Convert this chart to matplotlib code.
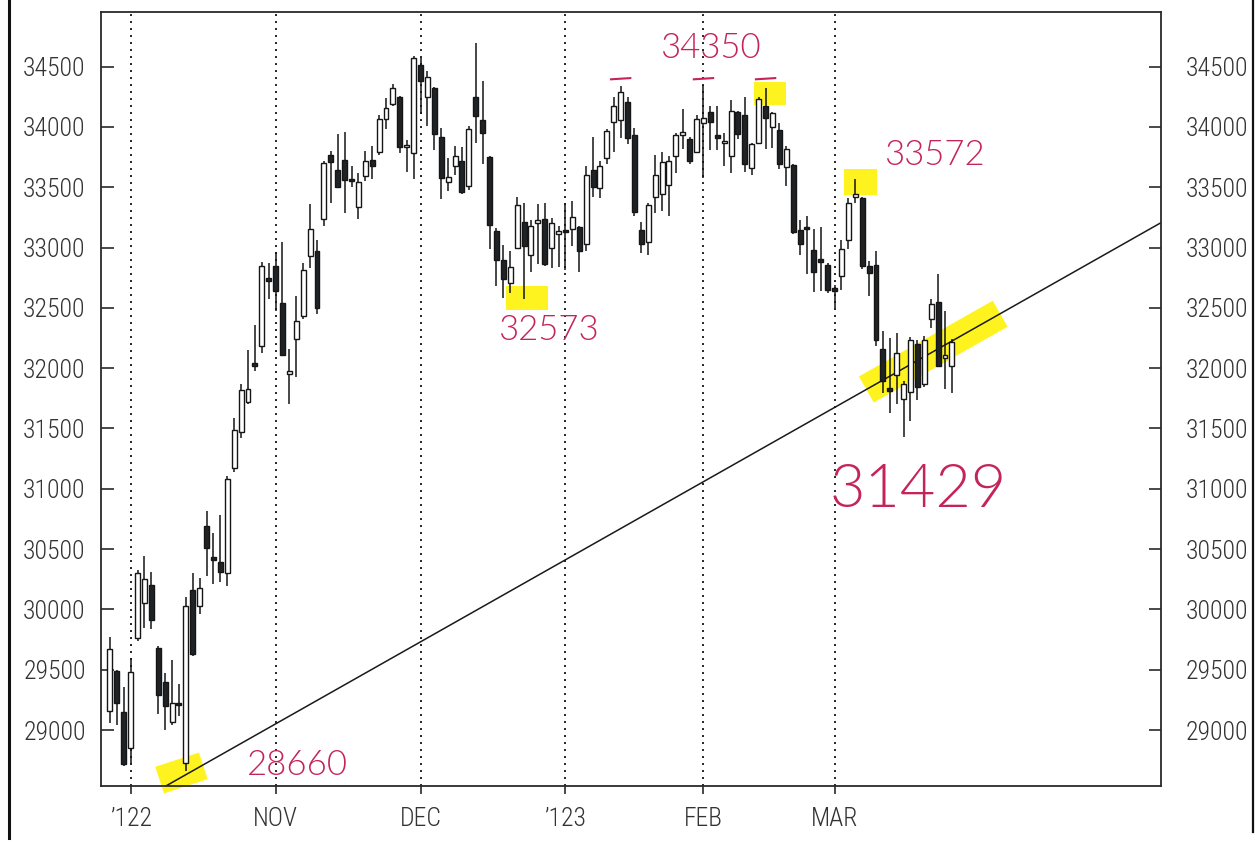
import matplotlib
matplotlib.use("Agg")
import matplotlib.pyplot as plt
import matplotlib.font_manager as fm
from matplotlib.patches import Polygon
from matplotlib.lines import Line2D
from matplotlib.transforms import IdentityTransform
import numpy as np

# ---------------- data (DJIA daily, Sep 28 2022 - Mar 24 2023) ----------------
opens = [29160, 29490, 29150, 28850, 29760, 30050, 30200, 29680, 29400, 29070,
         29220, 28730, 30160, 30030, 30690, 30430, 30390, 30300, 31170, 31470,
         31720, 32045, 32180, 32740, 32850, 32540, 31950, 32240, 32430, 32930,
         32970, 33240, 33770, 33640, 33730, 33560, 33340, 33590, 33730, 33790,
         34070, 34190, 34250, 33830, 33780, 34510, 34250, 34320, 33915, 33540,
         33680, 33720, 33510, 34250, 34060, 33750, 33140, 32900, 32710, 33000,
         33210, 32940, 33200, 33240, 33000, 33110, 33145, 33150, 33170, 33030,
         33640, 33495, 33745, 34040, 34060, 34210, 33935, 33145, 33050, 33420,
         33440, 33515, 33755, 33935, 33900, 33795, 34030, 34120, 33925, 33865,
         33760, 34120, 34095, 33660, 33870, 34175, 34000, 33975, 33665, 33685,
         33145, 33160, 32980, 32890, 32855, 32650, 32765, 33060, 33420, 33410,
         32850, 32855, 32160, 31830, 31940, 31745, 31805, 32200, 31865, 32405,
         32550, 32085, 32020]
highs = [29770, 29500, 29360, 29600, 30330, 30440, 30310, 29700, 29470, 29580,
         29380, 30100, 30300, 30260, 30815, 30630, 30780, 31110, 31590, 31870,
         32150, 32360, 32880, 32870, 32960, 33050, 32160, 32600, 32870, 33360,
         33060, 33720, 33800, 33940, 33960, 33680, 33620, 33800, 33840, 34100,
         34240, 34360, 34260, 33890, 34590, 34570, 34460, 34330, 33990, 33740,
         33840, 33830, 34010, 34700, 34380, 33760, 33160, 33020, 32975, 33420,
         33370, 33230, 33360, 33370, 33245, 33175, 33370, 33385, 33175, 33680,
         33920, 33720, 33985, 34250, 34340, 34250, 33995, 33215, 33370, 33765,
         33790, 33760, 33950, 34150, 33920, 34095, 34345, 34170, 34170, 33950,
         34225, 34135, 34245, 33870, 34250, 34320, 34125, 34030, 33845, 33690,
         33230, 33265, 33150, 33170, 32870, 32690, 33060, 33410, 33572, 33420,
         32890, 32975, 32310, 32250, 32290, 31895, 32260, 32230, 32270, 32575,
         32780, 32470, 32240]
lows = [29060, 29040, 28700, 28720, 29740, 29850, 29840, 29130, 29000, 29040,
        29120, 28660, 29610, 29960, 30280, 30210, 30230, 30190, 31140, 31420,
        31700, 31980, 32130, 32570, 32470, 32100, 31700, 31930, 32410, 32830,
        32450, 33180, 33370, 33490, 33290, 33500, 33240, 33550, 33570, 33770,
        33980, 34170, 33780, 33630, 33570, 34110, 34010, 33810, 33400, 33470,
        33600, 33440, 33480, 33870, 33690, 32990, 32680, 32580, 32625, 32990,
        32573, 32800, 32860, 32850, 32830, 32840, 32810, 33010, 32800, 32970,
        33420, 33410, 33695, 33790, 33910, 33860, 33265, 32955, 32940, 33290,
        33300, 33260, 33615, 33820, 33690, 33780, 33575, 33810, 33810, 33675,
        33615, 33900, 33625, 33600, 33860, 33815, 33825, 33650, 33510, 33110,
        32935, 32780, 32630, 32640, 32620, 32500, 32650, 32985, 33370, 32820,
        32600, 32180, 31795, 31630, 31700, 31429, 31560, 31740, 31840, 32330,
        32010, 31825, 31795]
closes = [29670, 29220, 28720, 29480, 30300, 30250, 29910, 29290, 29200, 29220,
          29205, 30030, 29630, 30180, 30510, 30410, 30310, 31080, 31490, 31820,
          31830, 32020, 32850, 32725, 32640, 32110, 31980, 32390, 32810, 33150,
          32500, 33700, 33710, 33500, 33560, 33550, 33545, 33720, 33680, 34070,
          34160, 34320, 33830, 33845, 34570, 34380, 34410, 33940, 33580, 33585,
          33755, 33460, 33980, 34090, 33950, 33190, 32900, 32740, 32840, 33350,
          33010, 33180, 33225, 32860, 33200, 33135, 33125, 33250, 32975, 33600,
          33500, 33680, 33965, 34170, 34290, 33905, 33295, 33030, 33350, 33600,
          33710, 33720, 33935, 33960, 33715, 34070, 34075, 34045, 33910, 33885,
          34130, 33945, 33690, 33855, 34230, 34075, 34115, 33690, 33815, 33125,
          33030, 33150, 32800, 32880, 32645, 32640, 32990, 33370, 33430, 32845,
          32790, 32235, 31890, 31810, 32130, 31865, 32230, 31845, 32230, 32530,
          32020, 32105, 32215]

month_pos = [3, 24, 45, 66, 86, 105]
month_labels = ["\u2019122", "NOV", "DEC", "\u2019123", "FEB", "MAR"]
ytick_vals = list(range(29000, 35000, 500))

# trend line anchors (index, value)
trend_pts = [(11, 28630), (122, 32225)]

# handwritten notes: (text, index, value, size)
notes = [("34350", 86.96, 34654, 25), ("32573", 63.5, 32316, 25),
         ("33572", 119.4, 33767, 25), ("31429", 117.1, 30990, 44),
         ("28660", 27.2, 28710, 25)]
# highlights: (index, value, width px, height px, angle deg)
marks = [(10.36, 28644, 46, 28, 18), (60.43, 32586, 42, 24, 0),
         (95.7, 34281, 32, 23, 0), (108.8, 33543, 33, 26, 0)]
red_ticks = [(74, 34395), (86, 34395), (95, 34395)]

# ---------------- label font: prefer a narrow face ----------------
prefs = ["LiberationSansNarrow-Regular", "RobotoCondensed-Light",
         "RobotoCondensed-Regular", "NotoSans-CondensedLight",
         "NotoSans-Condensed.", "NotoSans-CondensedRegular",
         "DejaVuSansCondensed.", "OpenSans_Condensed-Light",
         "OpenSansCondensed-Light", "OpenSans-CondensedLight",
         "OpenSans-CondensedRegular", "Roboto_Condensed-Light"]
files = [f.fname for f in fm.fontManager.ttflist]
narrow = None
for p in prefs:
    hits = [f for f in files if p.lower() in f.lower()]
    if hits:
        narrow = hits[0]
        break
if narrow is None:
    cands = [f.fname for f in fm.fontManager.ttflist
             if f.stretch in ("condensed", "semi-condensed", "extra-condensed")
             and f.weight in (300, 400, "normal", "light", "regular")]
    if cands:
        narrow = cands[0]

if narrow is not None:
    lab_prop = fm.FontProperties(fname=narrow, size=18.5)
else:
    lab_prop = fm.FontProperties(family=["Liberation Sans", "DejaVu Sans"], size=14.5)
lab_color = "#333333"

# ---------------- figure ----------------
W, H = 1255, 843
fig = plt.figure(figsize=(W / 100, H / 100), dpi=100)
fig.patch.set_facecolor("white")
ax = fig.add_axes([101 / W, 1 - 786 / H, (1161 - 101) / W, (786 - 12) / H])
ax.set_xlim(-1.3, 152.3)
ax.set_ylim(28536, 34953)

for s in ax.spines.values():
    s.set_linewidth(1.3)
    s.set_color("#2a2a2a")

# month separators
for p in month_pos:
    ax.axvline(p, color="#222222", lw=1.4, linestyle=(0, (1, 2.6)), zorder=1)

# trend line
ax.axline(trend_pts[0], trend_pts[1], color="#1a1a1a", lw=1.1, zorder=2)

# candles
x = np.arange(len(closes))
o = np.array(opens); c = np.array(closes)
hi = np.array(highs); lo = np.array(lows)
ax.vlines(x, lo, hi, color="#151515", lw=1.1, zorder=3)
bottom = np.minimum(o, c)
height = np.maximum(np.abs(c - o), 22)
fill = np.where(c >= o, "white", "#1f2326")
ax.bar(x, height, bottom=bottom, width=0.72, color=fill, edgecolor="#151515",
       linewidth=1.0, zorder=4)

# ticks
ax.set_yticks(ytick_vals)
ax.set_yticklabels([str(v) for v in ytick_vals], fontproperties=lab_prop,
                   color=lab_color)
ax.tick_params(axis="y", direction="in", length=9, width=1.2, pad=11,
               color="#2a2a2a", left=True, right=True, labelright=False)
ax2 = ax.twinx()
ax2.set_ylim(ax.get_ylim())
ax2.set_yticks(ytick_vals)
ax2.set_yticklabels([str(v) for v in ytick_vals], fontproperties=lab_prop,
                    color=lab_color)
ax2.tick_params(axis="y", direction="in", length=9, width=1.2, pad=18,
                color="#2a2a2a")
for s in ax2.spines.values():
    s.set_visible(False)

ax.set_xticks(month_pos)
ax.set_xticklabels(month_labels, fontproperties=lab_prop, color=lab_color)
ax.tick_params(axis="x", direction="out", length=6, width=1.2, pad=9,
               color="#2a2a2a")

fig.canvas.draw()

# highlighter marks (pixel sized)
yellow = (1.0, 0.95, 0.0)
def blob(cx, cy, w, h, ang):
    t = np.deg2rad(ang)
    u = np.array([np.cos(t), np.sin(t)]); v = np.array([-np.sin(t), np.cos(t)])
    cen = np.array([cx, cy])
    pts = [cen - u * w / 2 - v * h / 2, cen + u * w / 2 - v * h / 2,
           cen + u * w / 2 + v * h / 2, cen - u * w / 2 + v * h / 2]
    return Polygon(pts, closed=True, transform=IdentityTransform(),
                   facecolor=yellow, edgecolor="none", alpha=0.88,
                   zorder=1.5, clip_on=False)

for (xi, val, w, h, ang) in marks:
    px, py = ax.transData.transform((xi, val))
    ax.add_patch(blob(px, py, w, h, ang))

# band along the trend line
(x0, y0), (x1, y1) = trend_pts
slope = (y1 - y0) / (x1 - x0)
bx0, bx1 = 109.6, 129.0
p0 = ax.transData.transform((bx0, y0 + slope * (bx0 - x0)))
p1 = ax.transData.transform((bx1, y0 + slope * (bx1 - x0)))
d = p1 - p0
ang = np.degrees(np.arctan2(d[1], d[0]))
mid = (p0 + p1) / 2
ax.add_patch(blob(mid[0], mid[1], np.hypot(*d), 30, ang))

# handwriting
ink = "#c4245c"
for (t, xi, val, sz) in notes:
    ax.text(xi, val, t, color=ink, fontsize=sz, ha="center", va="center",
            family=["Lato", "DejaVu Sans"], fontweight=300, zorder=6,
            clip_on=False)
for (xi, val) in red_ticks:
    ax.plot([xi - 1.4, xi + 1.4], [val, val + 10], color=ink, lw=1.5, zorder=6)

# scan edges
fig.add_artist(Line2D([9 / W, 9 / W], [1, 1 - 838 / H], color="#111111", lw=2.2))
fig.add_artist(Line2D([1253 / W, 1253 / W], [1, 1 - 832 / H], color="#111111", lw=1.6))

fig.savefig("out.png", dpi=100, facecolor="white")
